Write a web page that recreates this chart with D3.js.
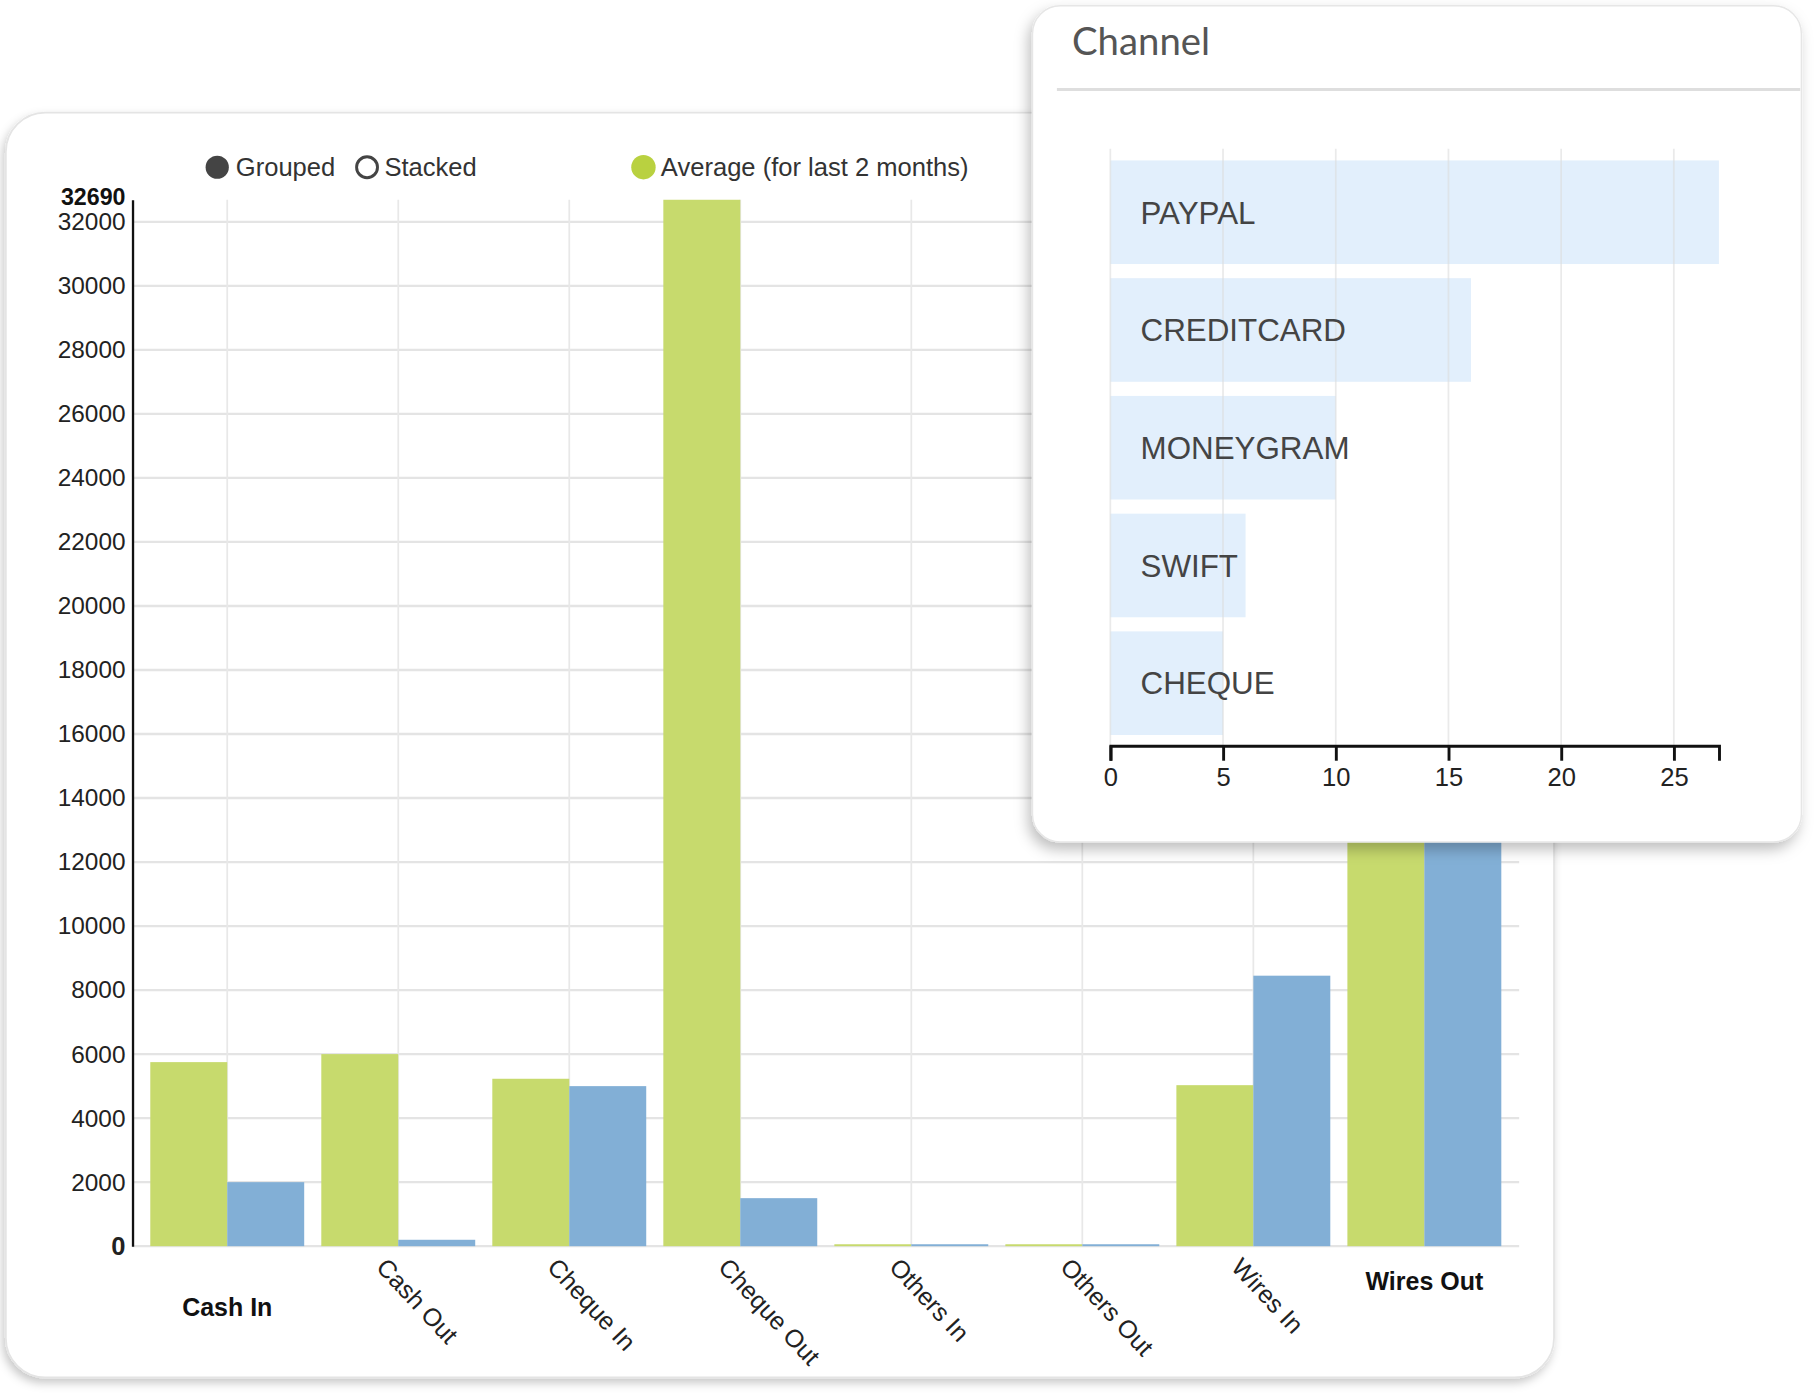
<!DOCTYPE html>
<html><head><meta charset="utf-8">
<script src="https://cdn.jsdelivr.net/npm/d3@7/dist/d3.min.js"></script>
<style>html,body{margin:0;padding:0;background:#fff;overflow:hidden} svg{display:block}</style>
</head><body>
<svg id="c" width="1820" height="1396" viewBox="0 0 1567 1202"></svg>
<script>
// ---------- data ----------
const categories = ["Cash In","Cash Out","Cheque In","Cheque Out","Others In","Others Out","Wires In","Wires Out"];
const averageValues = [5750, 6000, 5230, 32690, 60, 60, 5030, 15500];
const currentValues = [2000, 200, 5000, 1500, 60, 60, 8450, 14800];
const yTickValues = [0,2000,4000,6000,8000,10000,12000,14000,16000,18000,20000,22000,24000,26000,28000,30000,32000];
const yMaxValue = 32690;
const highlightedCategories = ["Cash In","Wires Out"];
const legendModes = ["Grouped","Stacked"];
const legendSeries = "Average (for last 2 months)";

const channels = ["PAYPAL","CREDITCARD","MONEYGRAM","SWIFT","CHEQUE"];
const channelValues = [27, 16, 10, 6, 5];
const channelTicks = [0,5,10,15,20,25];
const channelMax = 27;
const channelTitle = "Channel";

// ---------- setup ----------
const svg = d3.select("#c");
const defs = svg.append("defs");
const f1 = defs.append("filter").attr("id","sh1").attr("x","-10%").attr("y","-10%").attr("width","120%").attr("height","120%");
f1.append("feDropShadow").attr("dx",-2).attr("dy",4).attr("stdDeviation",4).attr("flood-color","#000").attr("flood-opacity",0.22);
const f2 = defs.append("filter").attr("id","sh2").attr("x","-10%").attr("y","-10%").attr("width","120%").attr("height","120%");
f2.append("feDropShadow").attr("dx",-3).attr("dy",6).attr("stdDeviation",6).attr("flood-color","#000").attr("flood-opacity",0.25);

const FONT = "'Liberation Sans', Arial, sans-serif";
const GREEN = "#c7da6d", BLUE = "#82afd6";

// main card
svg.append("rect").attr("x",5).attr("y",97).attr("width",1333).attr("height",1089)
  .attr("rx",34).attr("fill","#fff").attr("stroke","#e4e4e4").attr("stroke-width",1.5).attr("filter","url(#sh1)");

const g = svg.append("g");
const x0 = d3.scaleBand().domain(categories).range([122,1300]).paddingInner(0.1).paddingOuter(0.05);
const x1 = d3.scaleBand().domain(["avg","cur"]).range([0,x0.bandwidth()]);
const y = d3.scaleLinear().domain([0,yMaxValue]).range([1073,172]);

// gridlines
g.append("g").selectAll("line").data(yTickValues).join("line")
  .attr("x1",114).attr("x2",1308).attr("y1",d=>y(d)).attr("y2",d=>y(d))
  .attr("stroke","#e4e4e4").attr("stroke-width",2);
g.append("g").selectAll("line").data(categories).join("line")
  .attr("x1",d=>x0(d)+x0.bandwidth()/2).attr("x2",d=>x0(d)+x0.bandwidth()/2)
  .attr("y1",y(yMaxValue)).attr("y2",y(0))
  .attr("stroke","#e8e8e8").attr("stroke-width",1.5);

// bars
const grp = g.append("g").selectAll("g").data(categories).join("g")
  .attr("transform",d=>`translate(${x0(d)},0)`);
grp.append("rect").attr("x",x1("avg")).attr("width",x1.bandwidth())
  .attr("y",(d,i)=>y(averageValues[i])).attr("height",(d,i)=>y(0)-y(averageValues[i])).attr("fill",GREEN);
grp.append("rect").attr("x",x1("cur")).attr("width",x1.bandwidth())
  .attr("y",(d,i)=>y(currentValues[i])).attr("height",(d,i)=>y(0)-y(currentValues[i])).attr("fill",BLUE);

// y axis
const ya = g.append("g").attr("transform","translate(114,0)")
  .call(d3.axisLeft(y).tickValues(yTickValues).tickSize(0).tickPadding(6).tickFormat(d3.format("d")));
ya.select(".domain").attr("stroke","#111").attr("stroke-width",2);
ya.selectAll("text").attr("font-family",FONT).attr("font-size",21).attr("fill","#222");
ya.selectAll(".tick").filter(d=>d===0).select("text").attr("font-weight","bold").attr("font-size",22);
ya.append("text").attr("x",-6).attr("y",y(yMaxValue)).attr("dy","0.22em").attr("text-anchor","end")
  .attr("font-family",FONT).attr("font-size",20).attr("font-weight","bold").attr("fill","#111").text(yMaxValue);

// x labels
const xl = g.append("g").selectAll("text").data(categories).join("text")
  .attr("font-family",FONT).attr("fill","#111");
xl.each(function(d,i){
  const t = d3.select(this);
  const cx = x0(d)+x0.bandwidth()/2;
  if (highlightedCategories.includes(d)) {
    t.attr("x",cx).attr("y", i===0 ? 1133 : 1111).attr("text-anchor","middle")
     .attr("font-weight","bold").attr("font-size",21.5).text(d);
  } else {
    t.attr("text-anchor","start").attr("font-size",21.5).attr("fill","#222")
     .attr("transform",`translate(${cx-20},${1092}) rotate(47)`).text(d);
  }
});

// legend
const lg = g.append("g").attr("font-family",FONT).attr("font-size",22).attr("fill","#333");
lg.append("circle").attr("cx",187).attr("cy",144).attr("r",10).attr("fill","#444");
lg.append("text").attr("x",203).attr("y",144).attr("dy","0.35em").text(legendModes[0]);
lg.append("circle").attr("cx",316).attr("cy",144).attr("r",9).attr("fill","#fff").attr("stroke","#444").attr("stroke-width",2.5);
lg.append("text").attr("x",331).attr("y",144).attr("dy","0.35em").text(legendModes[1]);
lg.append("circle").attr("cx",554).attr("cy",144).attr("r",10.5).attr("fill","#b9d140");
lg.append("text").attr("x",569).attr("y",144).attr("dy","0.35em").text(legendSeries);

// ---------- channel card ----------
svg.append("rect").attr("x",889).attr("y",5).attr("width",662).attr("height",720)
  .attr("rx",24).attr("fill","#fff").attr("stroke","#e6e6e6").attr("stroke-width",1.2).attr("filter","url(#sh2)");
svg.append("text").attr("x",923).attr("y",47).attr("font-family","Lato, 'Open Sans', sans-serif")
  .attr("font-size",33).attr("fill","#555").text(channelTitle);
svg.append("line").attr("x1",910).attr("x2",1550).attr("y1",77).attr("y2",77).attr("stroke","#dedede").attr("stroke-width",2.5);

const cg = svg.append("g");
const cx = d3.scaleLinear().domain([0,channelMax]).range([956,1480]);
const cy = d3.scaleBand().domain(channels).range([128,643]).paddingInner(0.12).paddingOuter(0.1);

cg.append("g").selectAll("rect").data(channels).join("rect")
  .attr("x",cx(0)).attr("y",d=>cy(d)).attr("height",cy.bandwidth())
  .attr("width",(d,i)=>cx(channelValues[i])-cx(0)).attr("fill","#e2effc");
cg.append("g").selectAll("line").data(channelTicks).join("line")
  .attr("x1",d=>cx(d)).attr("x2",d=>cx(d)).attr("y1",128).attr("y2",642)
  .attr("stroke","#dcdcdc").attr("stroke-opacity",0.6).attr("stroke-width",1.5);
cg.append("g").selectAll("text").data(channels).join("text")
  .attr("x",982).attr("y",d=>cy(d)+cy.bandwidth()/2).attr("dy","0.36em")
  .attr("font-family",FONT).attr("font-size",27).attr("fill","#444").text(d=>d);

const xa = cg.append("g").attr("transform","translate(0,642)")
  .call(d3.axisBottom(cx).tickValues(channelTicks).tickSize(13).tickSizeOuter(13).tickPadding(6));
xa.select(".domain").attr("stroke","#111").attr("stroke-width",2.5);
xa.selectAll(".tick line").attr("stroke","#111").attr("stroke-width",2.5);
xa.selectAll("text").attr("font-family",FONT).attr("font-size",22).attr("fill","#222");
</script>
</body></html>
